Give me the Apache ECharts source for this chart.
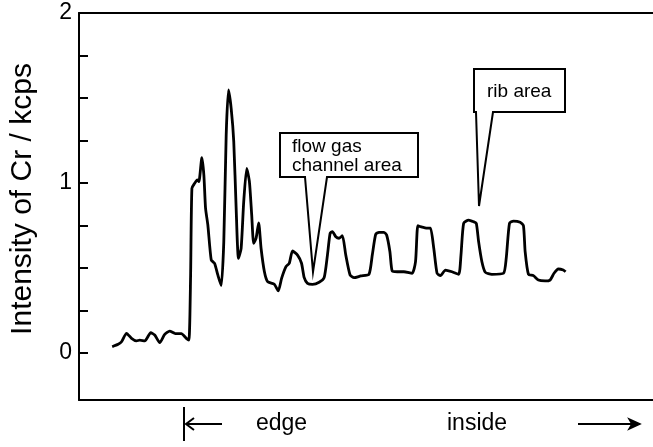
<!DOCTYPE html>
<html>
<head>
<meta charset="utf-8">
<script src="https://cdn.jsdelivr.net/npm/echarts@6/dist/echarts.min.js"></script>
<style>
html,body{margin:0;padding:0;background:#fff;}
#chart{width:653px;height:447px;}
</style>
</head>
<body>
<div id="chart"></div>
<script>
// Position along the scan (arbitrary units) and Cr intensity (kcps)
const position = [33.3,39.3,42.7,47.7,52.7,57.7,61,66,72,76,81,86,91,96.7,102.7,107.7,110.3,
  112,113.3,116,118.7,120.3,123.3,125.3,127,129.3,132.7,136,139.3,142.7,145.3,147.7,150,152.7,155.3,
  157.7,160,162.7,165.3,168.3,171,173.3,175.3,177.7,180.3,182.7,186,189.3,196,200,203.3,207.7,211,
  214.3,219.3,223.3,226,229.3,234.3,241,246,249.3,252,254.3,257.7,261,264.3,267.7,272,276,282.7,291,
  294.3,297.7,301,306,308.7,312,314.3,319.3,326,334.3,337.7,340,342.7,349.3,352.7,356,359.3,362.7,
  367.7,374.3,381,383.3,386,391,396,398.7,401,404.3,407.7,414.3,426,428.7,432,436,442.7,446,447.7,
  451,456,461,467.7,472.7,476.7,481,486,488.3];
const intensity = [0.037,0.051,0.066,0.116,0.086,0.071,0.076,0.071,0.119,0.106,0.061,0.110,0.129,0.114,0.114,0.086,0.076,
  0.459,0.969,0.998,1.018,1.008,1.149,1.047,0.851,0.753,0.547,0.528,0.459,0.396,0.655,1.282,1.547,1.439,1.243,
  0.851,0.557,0.616,0.890,1.086,1.008,0.812,0.645,0.675,0.766,0.616,0.48,0.42,0.404,0.365,0.439,0.508,0.528,
  0.600,0.576,0.528,0.443,0.410,0.404,0.416,0.443,0.576,0.704,0.714,0.684,0.675,0.690,0.576,0.459,0.443,0.453,0.463,
  0.576,0.698,0.710,0.710,0.694,0.596,0.482,0.478,0.478,0.469,0.537,0.749,0.743,0.734,0.734,0.616,0.469,0.455,
  0.488,0.478,0.463,0.576,0.763,0.782,0.772,0.763,0.655,0.537,0.475,0.463,0.469,0.557,0.763,0.776,0.769,0.749,0.596,
  0.463,0.455,0.429,0.424,0.429,0.469,0.494,0.488,0.478];
const yTickValues = [0,0.25,0.5,0.75,1,1.25,1.5,1.75,2];
const yLabelValues = [0,1,2];
const yTitle = 'Intensity of Cr / kcps';
const calloutChannel = ['flow gas','channel area'];
const calloutRib = 'rib area';
const bottomLabels = ['edge','inside'];

const FONT = '"Liberation Sans", Arial, Helvetica, sans-serif';
const chart = echarts.init(document.getElementById('chart'), null, {renderer:'canvas'});
const seriesData = position.map((p,i)=>[p,intensity[i]]);

chart.setOption({
  animation:false,
  backgroundColor:'#fff',
  grid:{left:79, top:13, bottom:47, right:-2, containLabel:false},
  xAxis:[
    {type:'value', min:0, max:576, position:'bottom',
     axisLine:{show:true, onZero:false, lineStyle:{color:'#000', width:2}},
     axisTick:{show:false}, axisLabel:{show:false}, splitLine:{show:false}},
    {type:'value', min:0, max:576, position:'top',
     axisLine:{show:true, onZero:false, lineStyle:{color:'#000', width:2}},
     axisTick:{show:false}, axisLabel:{show:false}, splitLine:{show:false}}
  ],
  yAxis:{type:'value', min:-0.2765, max:2,
    axisLine:{show:true, onZero:false, lineStyle:{color:'#000', width:2}},
    axisTick:{show:true, inside:true, length:9, customValues:yTickValues, lineStyle:{color:'#000', width:2}},
    axisLabel:{show:true, customValues:yLabelValues, margin:7, fontFamily:FONT, fontSize:23, color:'#000'},
    splitLine:{show:false}},
  series:[{type:'line', data:seriesData, xAxisIndex:0, showSymbol:false, smooth:0.2,
    lineStyle:{color:'#000', width:2.8}, z:3}],
  graphic:[
    {type:'text', x:23, y:199, rotation:Math.PI/2,
     style:{text:yTitle, font:'30px '+FONT, fill:'#000', textAlign:'center', textVerticalAlign:'middle'}},
    {type:'polygon', z:10, shape:{points:[[280,133],[418,133],[418,177],[327,177],[313,272],[305,177],[280,177]]},
     style:{fill:'#fff', stroke:'#000', lineWidth:2}},
    {type:'text', z:11, left:292, top:137, style:{text:calloutChannel.join('\n'), font:'19px '+FONT, fill:'#000', lineHeight:19}},
    {type:'polygon', z:10, shape:{points:[[474,69],[565,69],[565,112],[493,112],[479,206],[476,112],[474,112]]},
     style:{fill:'#fff', stroke:'#000', lineWidth:2}},
    {type:'text', z:11, left:487, top:82, style:{text:calloutRib, font:'19px '+FONT, fill:'#000'}},
    // bottom annotation
    {type:'line', shape:{x1:184, y1:407, x2:184, y2:441}, style:{stroke:'#000', lineWidth:2}},
    {type:'polyline', shape:{points:[[222,424],[186,424]]}, style:{stroke:'#000', lineWidth:2}},
    {type:'polyline', shape:{points:[[194,418],[186,424],[194,430]]}, style:{stroke:'#000', lineWidth:2, fill:null}},
    {type:'text', left:256, top:412, style:{text:bottomLabels[0], font:'23px '+FONT, fill:'#000'}},
    {type:'text', left:447, top:412, style:{text:bottomLabels[1], font:'23px '+FONT, fill:'#000'}},
    {type:'polyline', shape:{points:[[578,424],[638,424]]}, style:{stroke:'#000', lineWidth:2}},
    {type:'polygon', shape:{points:[[640,424],[629,419],[632,424],[629,429]]}, style:{fill:'#000', stroke:'#000', lineWidth:1.5}}
  ]
});
</script>
</body>
</html>
